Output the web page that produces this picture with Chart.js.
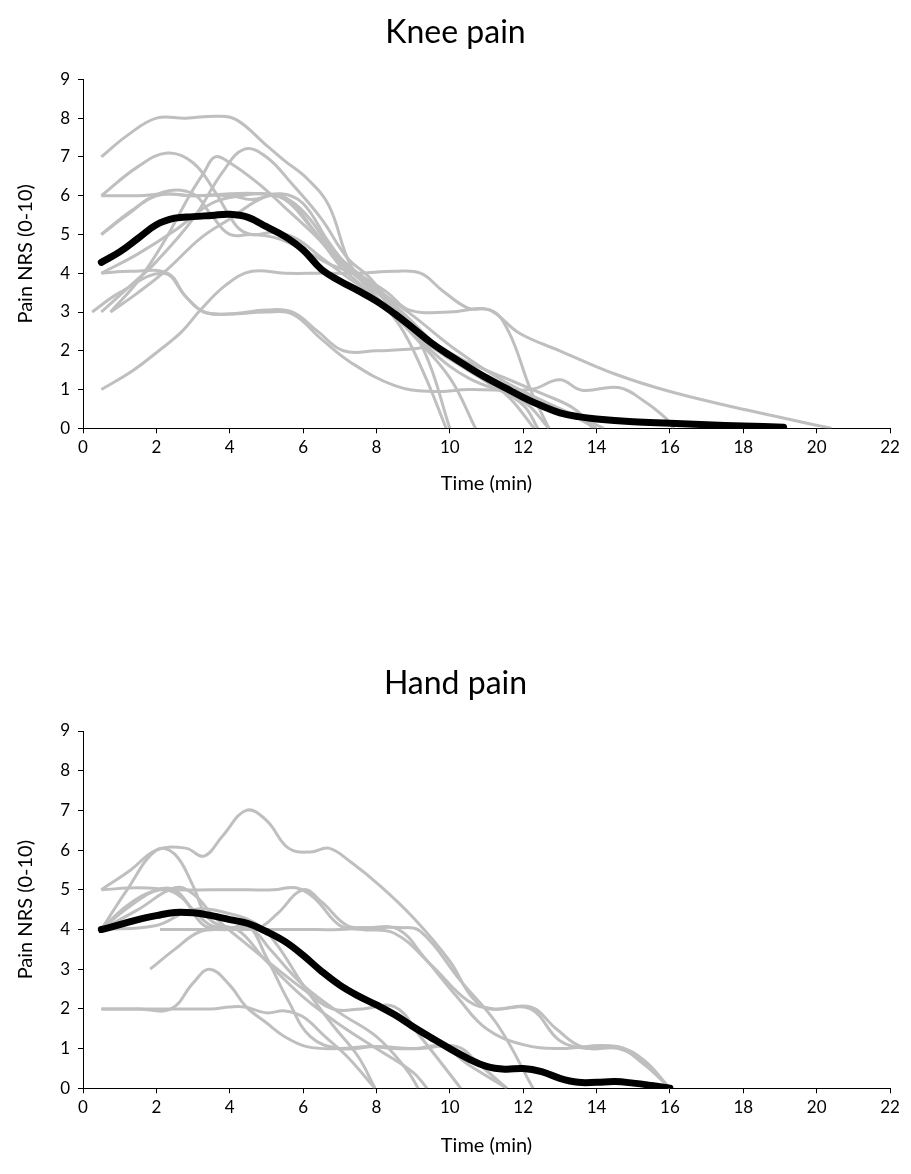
<!DOCTYPE html>
<html>
<head>
<meta charset="utf-8">
<script src="https://cdn.jsdelivr.net/npm/chart.js@4.4.1/dist/chart.umd.min.js"></script>
<style>
  body { margin: 0; background: #fff; }
  .panel { position: absolute; left: 0; width: 911px; }
  #kneeBox { top: 0; height: 520px; }
  #handBox { top: 600px; height: 574px; }
</style>
</head>
<body>
<div class="panel" id="kneeBox"><canvas id="knee" width="911" height="520"></canvas></div>
<div class="panel" id="handBox"><canvas id="hand" width="911" height="574"></canvas></div>
<script>
// --- data: [time (min), pain NRS] per participant ---
const X_TICKS = [0, 2, 4, 6, 8, 10, 12, 14, 16, 18, 20, 22];
const Y_TICKS = [0, 1, 2, 3, 4, 5, 6, 7, 8, 9];

const kneeMean = [[0.5,4.28],[1,4.55],[1.5,4.9],[2,5.25],[2.5,5.42],[3,5.46],[3.5,5.49],[4,5.52],[4.5,5.44],[5,5.2],[5.5,4.95],[6,4.6],[6.5,4.1],[7,3.8],[7.5,3.55],[8,3.28],[8.5,2.95],[9,2.58],[9.5,2.2],[10,1.88],[10.5,1.58],[11,1.3],[11.5,1.05],[12,0.8],[12.5,0.58],[13,0.4],[13.5,0.3],[14,0.24],[15,0.17],[16,0.13],[17,0.09],[18,0.06],[19.1,0.03]];

const knee1 = [[0.5,7],[1.2,7.55],[2,8],[2.8,8],[3.7,8.05],[4.2,7.95],[5,7.3],[5.5,6.9],[6.1,6.45],[6.7,5.75],[7.3,4.2],[8,3.4],[9,2.4],[10,1.3],[10.7,0]];
const knee2 = [[0.5,6],[1.5,6.75],[2.3,7.1],[3,6.85],[3.6,6.1],[4.2,5.2],[4.6,5],[5.2,5.05],[5.8,4.9],[6.5,4.4],[7.2,3.9],[7.8,3.5],[8.6,2.7],[9.3,1.4],[9.9,0]];
const knee3 = [[0.5,6],[1.5,6],[2.3,6.05],[3,6],[4,6.05],[4.8,6.05],[5.5,5.9],[6.2,5.2],[7,4.3],[7.6,3.8],[8.5,3.1],[9.3,2],[10,0]];
const knee4 = [[0.75,3],[1.5,3.8],[2.2,4.8],[2.9,6],[3.3,6.6],[3.6,7],[4,6.85],[4.8,6.3],[5.5,5.7],[6.3,5],[7,4.3],[7.7,3.8],[8.7,3],[9.8,2],[11,1.2],[12,0.6],[12.4,0]];
const knee5 = [[0.5,3],[1.2,3.6],[2,4.3],[3,5.4],[3.8,6.6],[4.4,7.2],[5,7],[5.7,6.3],[6.5,5.4],[7.2,4.4],[7.8,3.9],[8.5,3.1],[9.5,2.2],[10.5,1.5],[11.5,0.9],[12.3,0]];
const knee6 = [[0.5,5],[1.3,5.6],[2.2,6.1],[3,6.05],[3.5,5.5],[4,5],[4.6,5],[5.3,4.9],[6,4.6],[6.8,4.2],[7.6,3.9],[8.5,3],[9.5,2],[10.5,1.3],[12,0.7],[12.7,0]];
const knee7 = [[0.5,5],[1.2,5.5],[2,6],[3,6],[4,6],[4.6,5.9],[5.3,6],[6,5.6],[6.8,4.6],[7.5,4],[8.3,3.5],[8.9,3.05],[10,3],[11.1,3.05],[11.6,2.5],[12.2,1],[12.7,0]];
const knee8 = [[0.5,1],[1.3,1.45],[2,1.95],[2.7,2.5],[3.2,3.05],[3.9,3.7],[4.6,4.05],[5.5,4],[6.5,4],[7.5,4],[8.5,4.05],[9.2,4],[9.8,3.55],[10.5,3.1],[11.1,3.05],[11.9,2.45],[13,2],[14.5,1.4],[16,0.95],[18.1,0.47],[20.4,0]];
const knee9 = [[0.5,4],[1.3,4.05],[2.3,4],[2.8,3.4],[3.3,3],[4,2.95],[5,3.05],[5.7,3],[6.4,2.5],[7.1,2],[8,2],[9,2.05],[9.6,2.1],[10.5,1.7],[11.5,1.3],[12.5,0.9],[13.4,0.5],[13.9,0]];
const knee10 = [[0.25,3],[1,3.5],[2.2,4],[2.8,3.4],[3.3,3],[4,2.95],[5,3],[5.7,2.95],[6.5,2.3],[7.3,1.7],[8.5,1.1],[9.5,0.95],[10.5,1],[12.2,1],[13,1.25],[13.6,0.98],[14.6,1.05],[15.3,0.7],[15.9,0.25],[16.1,0]];
const knee11 = [[0.5,4],[1.5,4.5],[2.5,5.1],[3.5,5.8],[4.3,6],[5,6.05],[5.6,5.9],[6.3,5.1],[7,4.2],[7.7,3.6],[8.6,2.8],[9.5,2.1],[10.5,1.5],[11.5,1.05],[12.5,0.7],[13.5,0.3],[14.2,0]];
const knee12 = [[0.75,3],[1.5,3.5],[2.3,4.1],[3.2,4.9],[4,5.4],[4.8,5.9],[5.4,6.05],[6,5.8],[6.7,4.8],[7.3,4.1],[8,3.6],[9,2.9],[10.2,2],[11.5,1.2],[13,0.5],[14,0]];
const kneeLines = [knee1, knee2, knee3, knee4, knee5, knee6, knee7, knee8, knee9, knee10, knee11, knee12];

const handMean = [[0.5,4],[1,4.12],[1.5,4.25],[2,4.35],[2.5,4.43],[3,4.42],[3.5,4.35],[4,4.25],[4.5,4.15],[5,3.95],[5.5,3.7],[6,3.35],[6.5,2.95],[7,2.6],[7.5,2.33],[8,2.1],[8.5,1.85],[9,1.55],[9.5,1.27],[10,1],[10.5,0.75],[11,0.55],[11.5,0.48],[12,0.5],[12.5,0.42],[13,0.25],[13.5,0.15],[14,0.15],[14.5,0.17],[15,0.13],[15.5,0.07],[16,0]];

const hand1 = [[0.5,5],[1.3,5.5],[2,6],[2.8,6.05],[3.3,5.85],[3.8,6.35],[4.45,7],[5,6.75],[5.6,6.05],[6.2,5.95],[6.7,6.05],[7.3,5.7],[8.1,5.1],[9,4.3],[10,3.2],[10.6,2.3],[11.1,2],[12.2,2.05],[12.9,1.5],[13.6,1.05],[14.6,1.05],[15.3,0.7],[16,0]];
const hand2 = [[0.5,5],[1.5,5.05],[2.5,5],[3.5,5],[4.5,5],[5.2,5],[5.8,5.05],[6.3,4.8],[7,4.1],[7.6,4],[8.5,3.9],[9.5,3.1],[10.5,2.2],[11.2,2],[12.2,2],[13,1.2],[13.8,1],[14.6,1],[15.3,0.65],[16,0]];
const hand3 = [[2.1,4],[3,4],[4,4],[5,4],[6,4],[7,4],[7.8,4.05],[8.6,4],[9.3,3.3],[10.2,2.3],[11,1.5],[12,1.1],[13,1],[14.5,1.05],[15.3,0.6],[16,0]];
const hand4 = [[0.5,4],[1.2,5],[2,6],[2.5,5.9],[3,5.1],[3.4,4.3],[4,4.05],[4.5,4.1],[5,3.3],[5.6,2.2],[6.2,1.3],[7,1],[8,1.05],[9,1],[9.8,1.05],[10.5,0.6],[11.56,0]];
const hand5 = [[0.5,4],[1.3,4.6],[2.1,5],[2.7,4.8],[3.3,4.1],[3.9,4.05],[4.6,4],[5.1,3.5],[6,2.6],[7,1.9],[8,1.3],[8.8,0.5],[9.14,0]];
const hand6 = [[1.83,3],[2.5,3.5],[3.2,3.95],[4,4],[4.8,4.05],[5.3,4.4],[6,5],[6.5,4.7],[7.2,4.1],[7.8,4.05],[8.6,4.05],[9.2,3.95],[10.3,2.7],[11.3,1.6],[12.27,0]];
const hand7 = [[0.5,2],[1.5,2],[2.4,2],[3,2.65],[3.45,3],[4,2.6],[4.45,2.05],[5,1.65],[5.5,1.3],[6.1,1.05],[7,1],[7.8,1.05],[8.5,1],[9.2,1],[10.2,1.05],[10.8,0.6],[11.56,0]];
const hand8 = [[0.5,2],[1.5,2],[2.5,2],[3.5,2],[4,2.05],[4.4,2.05],[5,1.9],[5.5,1.95],[6,1.8],[6.6,1.3],[7.2,0.8],[7.96,0]];
const hand9 = [[0.5,4],[1.5,4.5],[2.5,5.05],[3,4.9],[3.6,4.3],[4.5,3.6],[5.3,3],[6,2.5],[6.8,2],[7.6,2],[8.5,2.05],[9.2,1.3],[10.3,0]];
const hand10 = [[0.5,4],[1.2,4.6],[2,5],[2.5,5],[3,4.5],[3.5,4.1],[4.2,4],[5,3.2],[6,2.3],[7,1.6],[8,1],[9,0.4],[9.38,0]];
const hand11 = [[0.5,4],[2,4.1],[3,4.5],[4,4.4],[4.8,4.1],[5.3,3.6],[6,2.6],[6.8,1.6],[7.5,0.8],[7.96,0]];
const handLines = [hand1, hand2, hand3, hand4, hand5, hand6, hand7, hand8, hand9, hand10, hand11];

// --- styling ---
const FONT = 'Lato, "Open Sans", sans-serif';
const GREY = '#BFBFBF';

function toPoints(arr) {
    return arr.map(p => ({ x: p[0], y: p[1] }));
}

function makeChart(id, title, mean, lines, box) {
    const datasets = lines.map(l => ({
        data: toPoints(l),
        borderColor: GREY,
        borderWidth: 3,
        pointRadius: 0,
        showLine: true,
        tension: 0.4,
        order: 1
    }));
    // thick black mean curve on top
    datasets.push({
        data: toPoints(mean),
        borderColor: '#000',
        borderWidth: 7,
        pointRadius: 0,
        showLine: true,
        tension: 0.4,
        borderCapStyle: 'round',
        order: 0
    });

    return new Chart(document.getElementById(id), {
        type: 'scatter',
        data: { datasets },
        options: {
            responsive: false,
            animation: false,
            // left padding 21 keeps the title centred on the page like the original
            layout: { padding: { top: box.padTop, right: 21, bottom: 0, left: 21 } },
            plugins: {
                legend: { display: false },
                tooltip: { enabled: false },
                title: {
                    display: true,
                    text: title,
                    color: '#000',
                    font: { family: FONT, size: 32, weight: 'normal' },
                    padding: { top: 13, bottom: 28 }
                }
            },
            scales: {
                x: {
                    type: 'linear',
                    min: 0, max: 22,
                    afterBuildTicks: s => { s.ticks = X_TICKS.map(v => ({ value: v })); },
                    afterFit: s => { s.height = box.xHeight; },
                    grid: { drawOnChartArea: false, tickLength: 5, tickColor: '#000' },
                    border: { color: '#000', width: 1 },
                    ticks: { color: '#000', font: { family: FONT, size: 17 }, padding: 4, maxRotation: 0 },
                    title: { display: true, text: 'Time (min)', color: '#000',
                             font: { family: FONT, size: 20 }, padding: { top: 0, bottom: box.xTitlePad } }
                },
                y: {
                    type: 'linear',
                    min: 0, max: 9,
                    afterBuildTicks: s => { s.ticks = Y_TICKS.map(v => ({ value: v })); },
                    afterFit: s => { s.width = 62; },
                    grid: { drawOnChartArea: false, tickLength: 5, tickColor: '#000' },
                    border: { color: '#000', width: 1 },
                    ticks: { color: '#000', font: { family: FONT, size: 17 }, padding: 8 },
                    title: { display: true, text: 'Pain NRS (0-10)', color: '#000',
                             font: { family: FONT, size: 20 }, padding: { top: -7, bottom: 0 } }
                }
            }
        }
    });
}

makeChart('knee', 'Knee pain', kneeMean, kneeLines, { padTop: 0, xHeight: 91.7, xTitlePad: 24 });
makeChart('hand', 'Hand pain', handMean, handLines, { padTop: 51.6, xHeight: 85.7, xTitlePad: 16 });
</script>
</body>
</html>
